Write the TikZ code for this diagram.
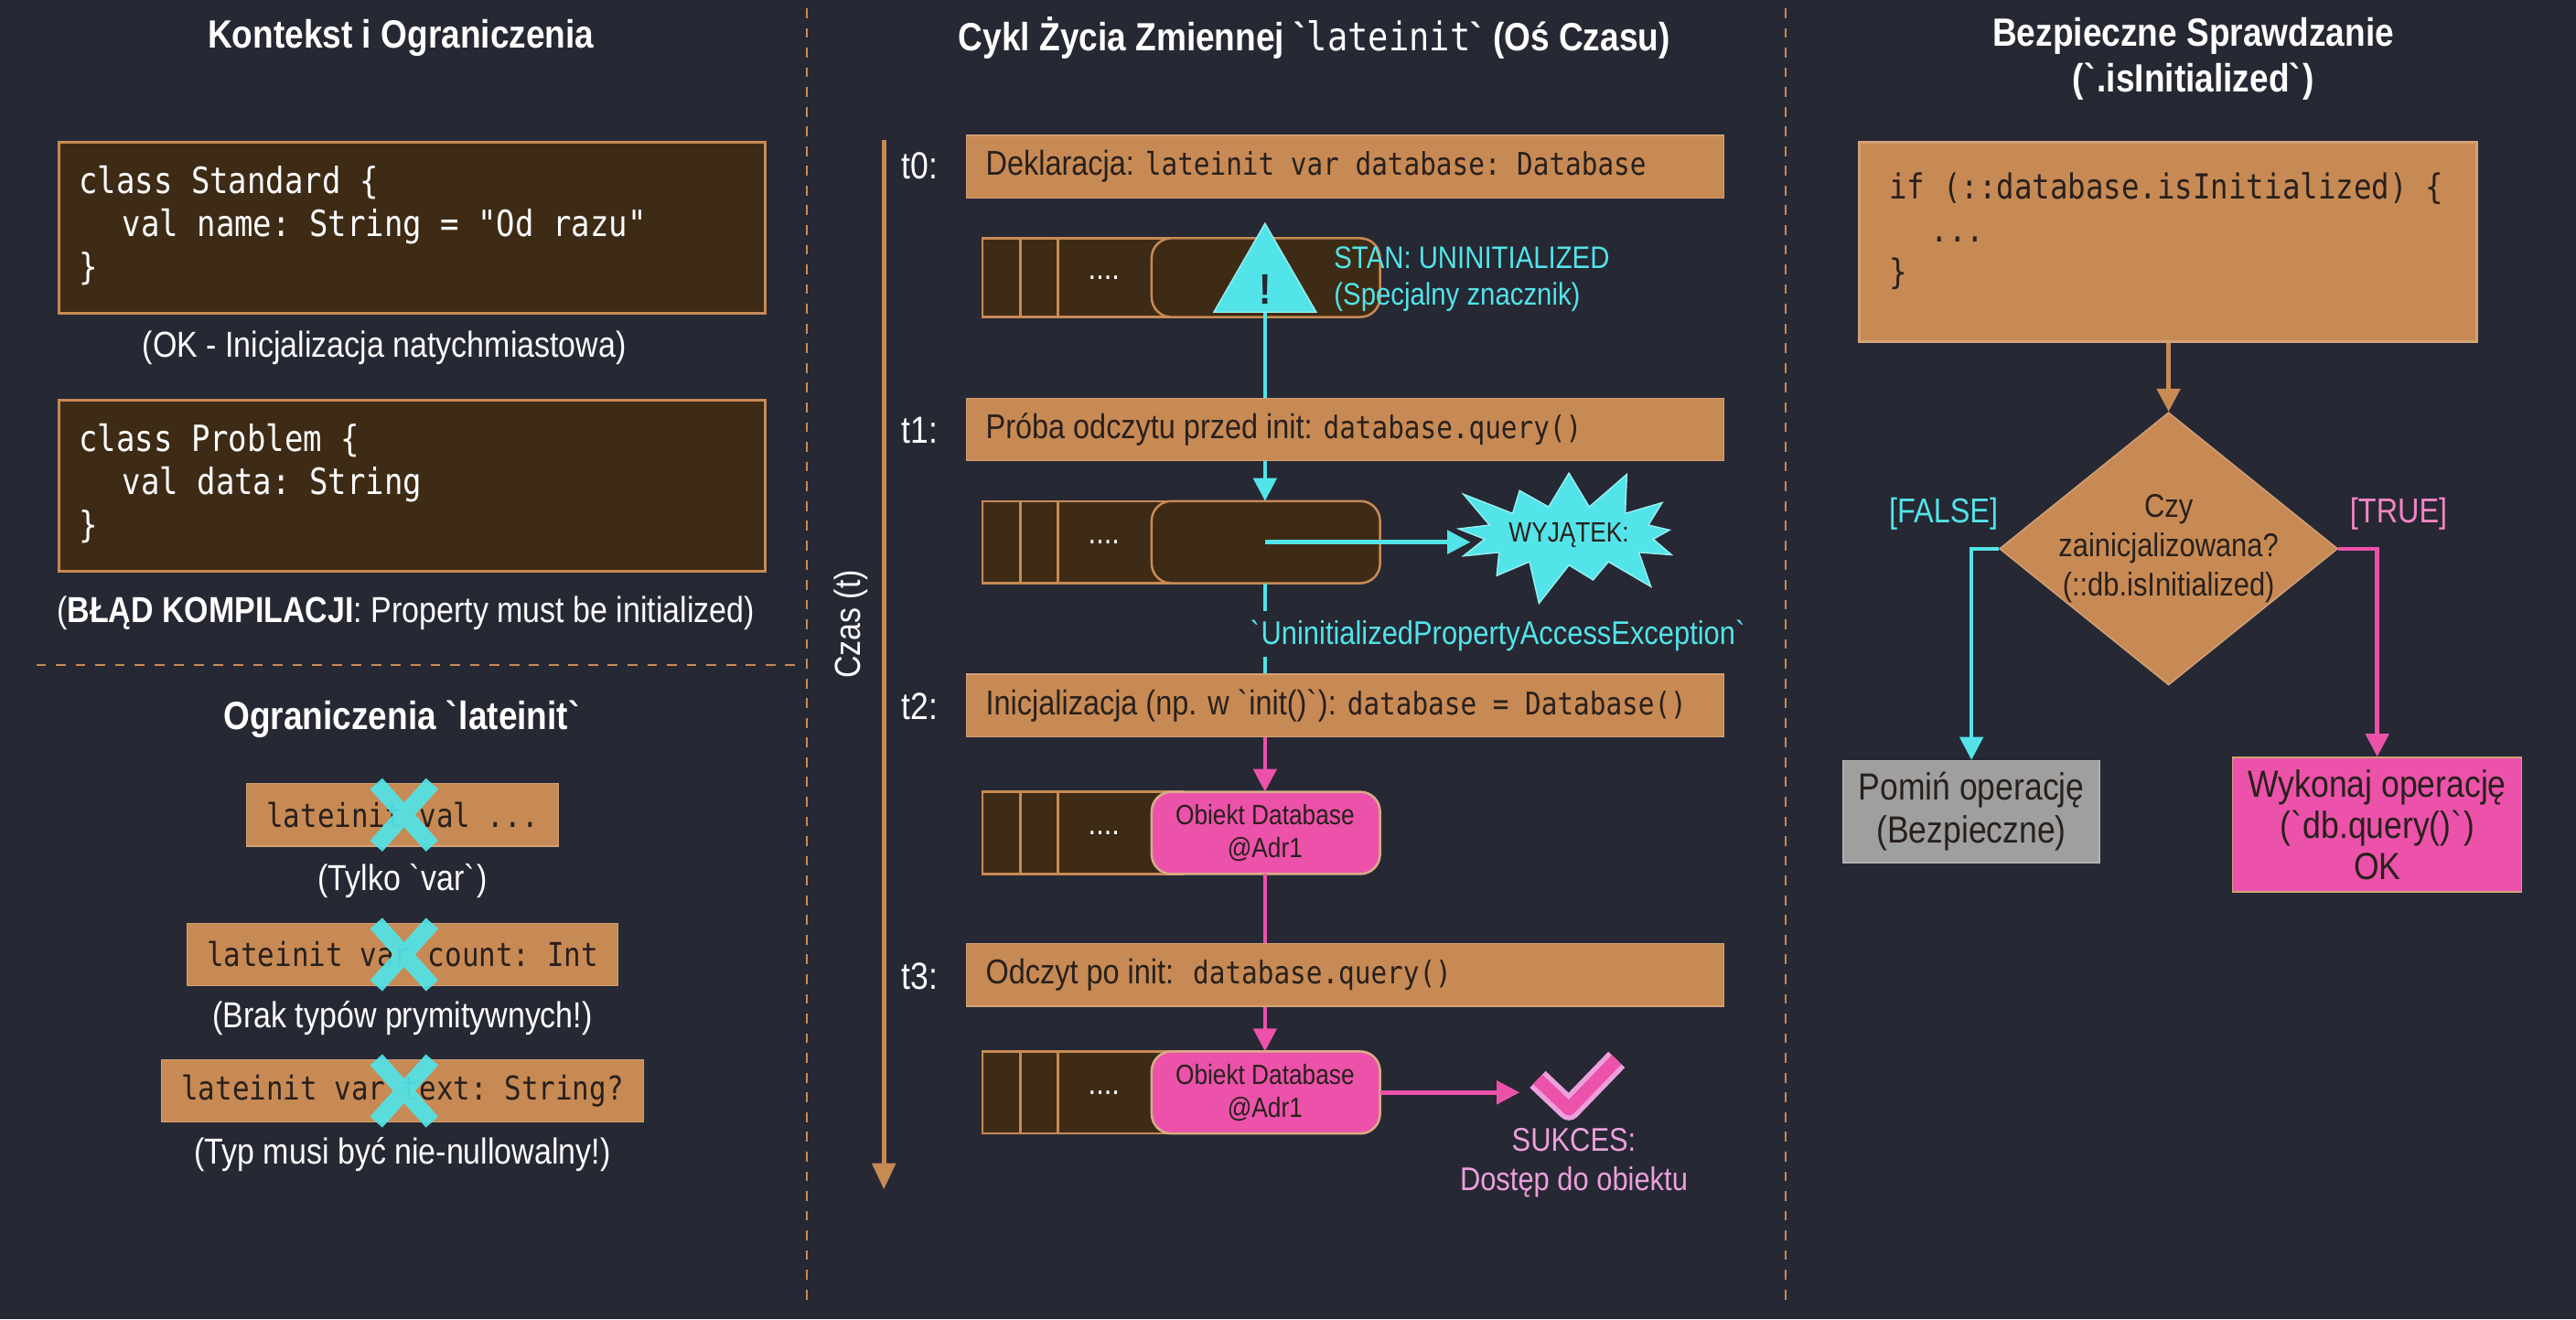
\documentclass[tikz,border=0pt]{standalone}
\usepackage{fontspec}
\setmainfont{Liberation Sans}[FakeStretch=0.86]
\setmonofont{DejaVu Sans Mono}[FakeStretch=0.86]
\usepackage{tikz}
\usetikzlibrary{calc,shapes.geometric,shapes.symbols,arrows.meta}
\definecolor{bg}{RGB}{38,40,52}
\definecolor{tan}{RGB}{200,138,84}
\definecolor{darkcell}{RGB}{62,43,22}
\definecolor{cyanx}{RGB}{82,228,232}
\definecolor{pinkx}{RGB}{236,82,170}
\definecolor{pinklt}{RGB}{236,160,220}
\definecolor{ink}{RGB}{40,32,28}
\newcommand{\bq}{\textasciigrave}
\tikzset{
  title/.style={text=white,font=\bfseries\fontsize{12}{14}\selectfont,align=center},
  body/.style={text=white,font=\fontsize{11}{13}\selectfont,align=center},
  codebox/.style={draw=tan,line width=0.8pt,fill=darkcell,anchor=north west,inner sep=0pt},
  bar/.style={draw=tan!80!white,fill=tan,anchor=north west,inner sep=0pt},
  tag/.style={draw=tan!80!white,fill=tan,text=ink,font=\ttfamily\fontsize{10}{11}\selectfont,minimum height=19pt,inner xsep=6pt},
  cell/.style={draw=tan,fill=darkcell,line width=0.7pt},
  divider/.style={draw=tan,dashed,line width=0.6pt,dash pattern=on 3pt off 3pt},
  arr/.style={line width=1.3pt,-{Triangle[length=7pt,width=7pt]}},
}
\begin{document}
\begin{tikzpicture}[x=0.5pt,y=-0.5pt]
    \fill[bg] (0,0) rectangle (1568,803);
    \useasboundingbox (0,0) rectangle (1568,803);
    % dividers
    \draw[divider] (491,5) -- (491,792);
    \draw[divider] (1087,5) -- (1087,792);
    \draw[divider] (22,405) -- (487,405);

    % left column
    \node[title] (ctx_title) at (244,23) {Kontekst i Ograniczenia};
    \node[codebox,minimum width=215pt,minimum height=52pt] (std_box) at (35,86) {};
    \node[anchor=north west,text=white,font=\ttfamily\fontsize{11}{13}\selectfont,align=left]
      (std_code) at ($(std_box.north west)+(6,8)$)
      {class Standard \{\\\hspace*{1.2em}val name: String = "Od razu"\\\}};
    \node[body] (std_cap) at (234,212) {(OK - Inicjalizacja natychmiastowa)};
    \node[codebox,minimum width=215pt,minimum height=52pt] (prob_box) at (35,243) {};
    \node[anchor=north west,text=white,font=\ttfamily\fontsize{11}{13}\selectfont,align=left]
      (prob_code) at ($(prob_box.north west)+(6,8)$)
      {class Problem \{\\\hspace*{1.2em}val data: String\\\}};
    \node[body] (prob_cap) at (247,373) {(\textbf{BŁĄD KOMPILACJI}: Property must be initialized)};

    \node[title] (lim_title) at (245,438) {Ograniczenia \bq lateinit\bq};
    \node[tag] (lim_a) at (245,496) {lateinit val ...};
    \node[body] (lim_a_cap) at (245,536) {(Tylko \bq var\bq)};
    \node[tag] (lim_b) at (245,581) {lateinit var count: Int};
    \node[body] (lim_b_cap) at (245,620) {(Brak typów prymitywnych!)};
    \node[tag] (lim_c) at (245,664) {lateinit var text: String?};
    \node[body] (lim_c_cap) at (245,703) {(Typ musi być nie-nullowalny!)};
    \foreach \y in {496,581,664}
      \draw[cyanx,line width=5pt,opacity=0.92] (229,\y-19) -- (263,\y+19) (263,\y-19) -- (229,\y+19);

    % middle column
    \node[title] (life_title) at (800,23) {Cykl Życia Zmiennej \bq\texttt{\mdseries lateinit}\bq{} (Oś Czasu)};
    \draw[tan,line width=1.5pt,-{Triangle[length=8pt,width=7pt]}] (538,85) coordinate (time_top) -- (538,724) coordinate (time_end);
    \node[body,rotate=90] (time_lbl) at (518,380) {Czas (t)};
    \foreach \t/\y in {0/101,1/262,2/430,3/594}
      \node[body,font=\fontsize{11.5}{12}\selectfont] (t\t_lbl) at (560,\y) {t\t:};
    \node[bar,minimum width=230.5pt,minimum height=19pt] (bar0) at (588,82) {};
    \node[bar,minimum width=230.5pt,minimum height=19pt] (bar1) at (588,242) {};
    \node[bar,minimum width=230.5pt,minimum height=19pt] (bar2) at (588,410) {};
    \node[bar,minimum width=230.5pt,minimum height=19pt] (bar3) at (588,574) {};
    \node[anchor=west,text=ink,font=\fontsize{10.5}{12}\selectfont] at ($(bar0.west)+(5,0)$)
      {Deklaracja: \texttt{\fontsize{9.5}{12}\selectfont lateinit var database: Database}};
    \node[anchor=west,text=ink,font=\fontsize{10.5}{12}\selectfont] at ($(bar1.west)+(5,0)$)
      {Próba odczytu przed init: \texttt{\fontsize{9.5}{12}\selectfont database.query()}};
    \node[anchor=west,text=ink,font=\fontsize{10.5}{12}\selectfont] at ($(bar2.west)+(5,0)$)
      {Inicjalizacja (np. w \bq init()\bq): \texttt{\fontsize{9.5}{12}\selectfont database = Database()}};
    \node[anchor=west,text=ink,font=\fontsize{10.5}{12}\selectfont] at ($(bar3.west)+(5,0)$)
      {Odczyt po init:~ \texttt{\fontsize{9.5}{12}\selectfont database.query()}};

    % memory rows
    \foreach \r/\ya/\yb in {0/145/193,1/305/355,2/482/532,3/640/690} {
      \draw[cell] (598,\ya) rectangle (720,\yb);
      \draw[tan,line width=0.7pt] (621,\ya) -- (621,\yb) (644,\ya) -- (644,\yb);
      \node[text=white,font=\fontsize{10}{10}\selectfont] (dots\r) at (672,\ya/2+\yb/2) {....};
    }
    \draw[cell,rounded corners=6pt] (701,145) rectangle (840,193);
    \node (slot0) at (770,169) {};
    \draw[cell,rounded corners=6pt] (701,305) rectangle (840,355);
    \node (slot1) at (770,330) {};
    \draw[draw=tan!70!white,fill=pinkx,rounded corners=6pt,line width=0.7pt] (701,482) rectangle (840,532);
    \node[text=ink,font=\fontsize{8.5}{10}\selectfont,align=center] (slot2) at (770,507) {Obiekt Database\\@Adr1};
    \draw[draw=tan!70!white,fill=pinkx,rounded corners=6pt,line width=0.7pt] (701,640) rectangle (840,690);
    \node[text=ink,font=\fontsize{8.5}{10}\selectfont,align=center] (slot3) at (770,665) {Obiekt Database\\@Adr1};

    % uninitialized marker
    \node[regular polygon,regular polygon sides=3,fill=cyanx,draw=cyanx!60!white,minimum size=36pt,inner sep=0pt] (warn) at (770,172) {};
    \node[font=\bfseries\fontsize{13}{13}\selectfont,text=bg] at (770,176) {!};
    \node[anchor=west,text=cyanx,font=\fontsize{9.5}{11}\selectfont,align=left] (stan_lbl) at (805,170) {STAN: UNINITIALIZED\\(Specjalny znacznik)};
    \draw[cyanx,line width=1.3pt] (warn.south) -- (bar1.north -| warn.south);
    \draw[cyanx,arr] (bar1.south -| warn) -- (770,305);
    \node[starburst,starburst points=13,starburst point height=14pt,fill=cyanx,draw=cyanx!60!white,
      minimum width=62pt,minimum height=46pt,inner sep=0pt,font=\fontsize{8.5}{10}\selectfont,text=ink] (exc) at (955,326) {WYJĄTEK:};
    \draw[cyanx,arr] (slot1.center) -- (895,330);
    \node[text=cyanx,font=\fontsize{10}{12}\selectfont] (exc_lbl) at (912,387) {\bq UninitializedPropertyAccessException\bq};
    \draw[cyanx,line width=1.3pt] (770,355) -- (770,372);
    \draw[cyanx,line width=1.3pt] (770,400) -- (bar2.north -| slot1);

    % initialised object
    \draw[pinkx,arr] (bar2.south -| slot2) -- (770,482);
    \draw[pinkx,line width=1.3pt] (770,532) -- (bar3.north -| slot2);
    \draw[pinkx,arr] (bar3.south -| slot3) -- (770,640);
    \coordinate (ok_mark) at (958,662);
    \draw[pinkx,arr] (840,665) -- ($(ok_mark)+(-33,3)$);
    \draw[pinklt,line width=7pt,line join=round] ($(ok_mark)+(-22,-5)$) -- ($(ok_mark)+(-3,13)$) -- ($(ok_mark)+(26,-17)$);
    \draw[pinkx,line width=4pt,line join=round] ($(ok_mark)+(-22,-5)$) -- ($(ok_mark)+(-3,13)$) -- ($(ok_mark)+(26,-17)$);
    \node[text=pinklt,font=\fontsize{10}{12}\selectfont,align=center] (ok_lbl) at (958,708) {SUKCES:\\Dostęp do obiektu};

    % right column
    \node[title] (safe_title) at (1335,36) {Bezpieczne Sprawdzanie\\(\bq.isInitialized\bq)};
    \node[codebox,fill=tan,draw=tan!80!white,minimum width=188pt,minimum height=60.5pt] (chk_box) at (1131,86) {};
    \node[anchor=north west,text=ink,font=\ttfamily\fontsize{10.5}{13}\selectfont,align=left]
      (chk_code) at ($(chk_box.north west)+(12,12)$)
      {if (::database.isInitialized) \{\\\hspace*{1.2em}...\\\}};
    \node[diamond,fill=tan,draw=tan!80!white,minimum width=103pt,minimum height=83pt,inner sep=0pt] (chk_dec) at (1320,334) {};
    \node[text=ink,font=\fontsize{10}{12}\selectfont,align=center] (chk_txt) at (chk_dec) {Czy\\zainicjalizowana?\\(::db.isInitialized)};
    \draw[tan,arr] (chk_box.south -| chk_dec) -- (chk_dec.north);
    \node[draw=gray!60,fill=gray!75,text=ink,font=\fontsize{11.5}{13}\selectfont,align=center,
      minimum width=78pt,minimum height=31pt] (skip_box) at (1200,494) {Pomiń operację\\(Bezpieczne)};
    \node[draw=tan!80!white,fill=pinkx,text=ink,font=\fontsize{11.5}{12.5}\selectfont,align=center,
      minimum width=88pt,minimum height=41pt] (run_box) at (1447,502) {Wykonaj operację\\(\bq db.query()\bq)\\OK};
    \draw[cyanx,arr] (chk_dec.west) -- (1200,334) -- (skip_box.north);
    \draw[pinkx,arr] (chk_dec.east) -- (1447,334) -- (run_box.north);
    \node[text=cyanx,font=\fontsize{10.5}{12}\selectfont] (false_lbl) at (1183,313) {[FALSE]};
    \node[text=pinkx!70!white,font=\fontsize{10.5}{12}\selectfont] (true_lbl) at (1460,313) {[TRUE]};
\end{tikzpicture}
\end{document}
